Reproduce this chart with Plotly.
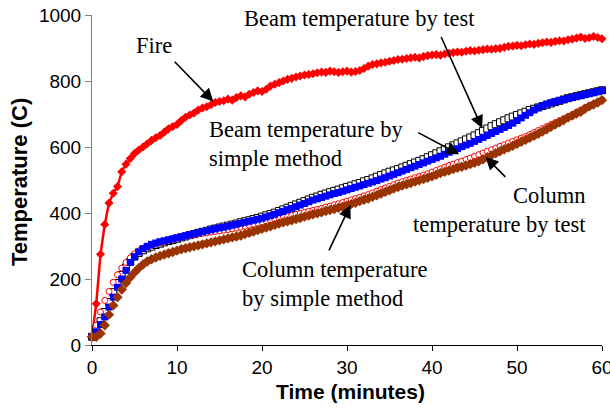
import plotly.graph_objects as go

# Sampling times (minutes), one reading every half minute
time_min = [i * 0.5 for i in range(121)]

fire = [
    25, 125, 275, 365, 430, 460, 480, 525, 548, 565,
    580, 591, 600, 610, 620, 628, 635, 645, 655, 662,
    668, 680, 690, 697, 703, 712, 718, 722, 728, 735,
    738, 740, 745, 742, 750, 755, 752, 760, 765, 770,
    768, 775, 785, 790, 795, 800, 805, 808, 812, 815,
    818, 820, 822, 825, 827, 826, 830, 828, 826, 828,
    830, 827, 829, 832, 838, 845, 850, 852, 855, 857,
    860, 862, 865, 866, 868, 870, 872, 870, 874, 877,
    879, 880, 878, 882, 884, 886, 888, 887, 890, 892,
    891, 893, 895, 897, 896, 898, 899, 902, 905, 906,
    908, 907, 910, 912, 911, 914, 916, 918, 917, 920,
    922, 921, 925, 927, 930, 933, 929, 931, 935, 932,
    928,
]

beam_test = [
    25, 48, 72, 100, 130, 160, 188, 212, 235, 253,
    268, 279, 287, 293, 298, 303, 307, 311, 315, 318,
    322, 326, 329, 333, 336, 340, 343, 346, 350, 353,
    356, 359, 362, 365, 368, 372, 375, 378, 382, 385,
    389, 393, 397, 401, 406, 411, 416, 421, 426, 431,
    436, 441, 446, 450, 455, 459, 463, 467, 471, 475,
    479, 483, 487, 491, 496, 500, 505, 510, 515, 520,
    525, 529, 533, 538, 543, 548, 553, 558, 563, 569,
    575, 581, 587, 593, 599, 605, 611, 617, 623, 629,
    635, 642, 649, 656, 663, 669, 675, 681, 687, 692,
    697, 702, 707, 712, 716, 720, 724, 728, 732, 736,
    740, 744, 748, 751, 754, 757, 760, 763, 766, 769,
    772,
]

beam_simple = [
    25, 40, 62, 85, 115, 145, 175, 200, 226, 250,
    268, 282, 292, 299, 305, 309, 313, 316, 319, 322,
    325, 328, 331, 334, 337, 340, 343, 346, 349, 352,
    355, 357, 360, 363, 366, 369, 372, 375, 378, 381,
    384, 388, 392, 396, 401, 405, 410, 414, 419, 424,
    429, 434, 439, 443, 447, 451, 455, 459, 462, 466,
    470, 474, 478, 482, 486, 490, 494, 498, 503, 507,
    512, 517, 522, 527, 532, 537, 542, 547, 552, 557,
    562, 567, 572, 578, 584, 589, 595, 601, 606, 611,
    617, 623, 629, 635, 641, 647, 653, 659, 665, 672,
    680, 688, 696, 704, 712, 719, 725, 730, 734, 738,
    741, 744, 747, 750, 753, 756, 759, 762, 765, 768,
    771,
]

column_test = [
    25, 60, 100, 135, 162, 190, 213, 233, 250, 264,
    276, 285, 292, 297, 302, 306, 310, 314, 318, 321,
    324, 327, 330, 332, 334, 336, 338, 340, 342, 344,
    346, 348, 350, 352, 354, 357, 360, 363, 366, 369,
    372, 375, 378, 381, 384, 387, 390, 393, 396, 399,
    402, 405, 408, 411, 414, 418, 421, 425, 428, 432,
    436, 440, 444, 448, 452, 456, 461, 466, 471, 476,
    481, 486, 491, 495, 499, 503, 507, 511, 515, 519,
    524, 529, 534, 539, 544, 548, 553, 557, 562, 567,
    572, 577, 582, 587, 592, 597, 602, 607, 612, 617,
    622, 627, 632, 638, 644, 650, 656, 662, 668, 674,
    680, 686, 692, 698, 706, 712, 719, 725, 731, 737,
    743,
]

column_simple = [
    25, 25, 35, 60, 92, 120, 145, 168, 188, 205,
    220, 233, 244, 253, 260, 265, 270, 274, 278, 282,
    286, 290, 293, 296, 299, 302, 305, 308, 311, 314,
    317, 320, 323, 326, 329, 332, 336, 340, 344, 348,
    352, 356, 360, 364, 368, 372, 375, 378, 382, 385,
    389, 392, 396, 399, 402, 406, 409, 412, 416, 419,
    423, 427, 431, 436, 440, 444, 449, 454, 459, 464,
    469, 474, 479, 483, 487, 491, 495, 499, 503, 507,
    511, 516, 521, 525, 529, 533, 537, 540, 544, 548,
    552, 557, 563, 569, 575, 581, 587, 593, 598, 604,
    610, 616, 622, 628, 634, 640, 647, 654, 661, 668,
    675, 682, 689, 695, 701, 707, 716, 723, 729, 735,
    742,
]

x_ticks = [0, 10, 20, 30, 40, 50, 60]
y_ticks = [0, 200, 400, 600, 800, 1000]

SERIF = "Liberation Serif, Times New Roman, serif"
SANS = "Liberation Sans, Arial, sans-serif"

fig = go.Figure()

fig.add_trace(go.Scatter(
    x=time_min, y=fire, mode="lines+markers", name="Fire",
    line=dict(color="#FF0000", width=2.5),
    marker=dict(symbol="diamond", size=7, color="#FF0000"),
    cliponaxis=False,
))
fig.add_trace(go.Scatter(
    x=time_min, y=beam_test, mode="markers", name="Beam temperature by test",
    marker=dict(symbol="square", size=7, color="white",
                line=dict(color="black", width=1)),
    cliponaxis=False,
))
fig.add_trace(go.Scatter(
    x=time_min, y=column_test, mode="markers", name="Column temperature by test",
    marker=dict(symbol="circle", size=6, color="white",
                line=dict(color="#FF0000", width=1)),
    cliponaxis=False,
))
fig.add_trace(go.Scatter(
    x=time_min, y=beam_simple, mode="markers", name="Beam temperature by simple method",
    marker=dict(symbol="square", size=7, color="#0000FF"),
    cliponaxis=False,
))
fig.add_trace(go.Scatter(
    x=time_min, y=column_simple, mode="markers", name="Column temperature by simple method",
    marker=dict(symbol="diamond", size=8, color="#993300"),
    cliponaxis=False,
))

# Callout arrows: (tail x, tail y, head x, head y) in data units
arrows = [
    (9.56, 863, 14.27, 738),
    (41.0, 938, 45.9, 657),
    (38.2, 646, 43.2, 578),
    (48.8, 505, 46.3, 570),
    (27.8, 282, 30.4, 424),
]
for tx, ty, hx, hy in arrows:
    fig.add_annotation(
        x=hx, y=hy, ax=tx, ay=ty, xref="x", yref="y", axref="x", ayref="y",
        text="", showarrow=True, arrowhead=2, arrowsize=1.6, arrowwidth=1.6,
        arrowcolor="black",
    )

labels = [
    ("Fire", 7.27, 908, "center", "center"),
    ("Beam temperature by test", 17.7, 990, "left", "left"),
    ("Beam temperature by<br>simple method", 13.5, 608, "left", "left"),
    ("Column<br>temperature by test", 58.3, 409, "right", "right"),
    ("Column temperature<br>by simple method", 17.45, 186, "left", "left"),
]
for text, lx, ly, xanchor, align in labels:
    fig.add_annotation(
        x=lx, y=ly, xref="x", yref="y", text=text, showarrow=False,
        xanchor=xanchor, yanchor="middle", align=align,
        font=dict(family=SERIF, size=22.5, color="black"),
    )

# Axis titles
fig.add_annotation(
    x=0.506, y=-0.141, xref="paper", yref="paper", text="<b>Time (minutes)</b>",
    showarrow=False, xanchor="center", yanchor="middle",
    font=dict(family=SANS, size=21, color="black"),
)
fig.add_annotation(
    x=-0.141, y=0.494, xref="paper", yref="paper", text="<b>Temperature (C)</b>",
    showarrow=False, xanchor="center", yanchor="middle", textangle=-90,
    font=dict(family=SANS, size=22, color="black"),
)

fig.update_layout(
    width=610, height=408,
    margin=dict(l=92, r=8, t=15, b=63, autoexpand=False),
    paper_bgcolor="white", plot_bgcolor="white",
    showlegend=False,
    font=dict(family=SANS, size=19, color="black"),
)
fig.update_xaxes(
    range=[0, 60], tickvals=x_ticks, showgrid=False, zeroline=False,
    showline=True, linecolor="black", linewidth=1,
    ticks="outside", ticklen=5, tickcolor="black",
    ticklabeloverflow="allow", automargin=False,
    tickfont=dict(family=SANS, size=19, color="black"),
)
fig.update_yaxes(
    range=[0, 1000], tickvals=y_ticks, showgrid=False, zeroline=False,
    showline=True, linecolor="#808080", linewidth=1,
    ticks="outside", ticklen=6, tickcolor="#808080",
    ticklabeloverflow="allow", automargin=False,
    tickfont=dict(family=SANS, size=19, color="black"),
)

fig.write_html("out.html")
